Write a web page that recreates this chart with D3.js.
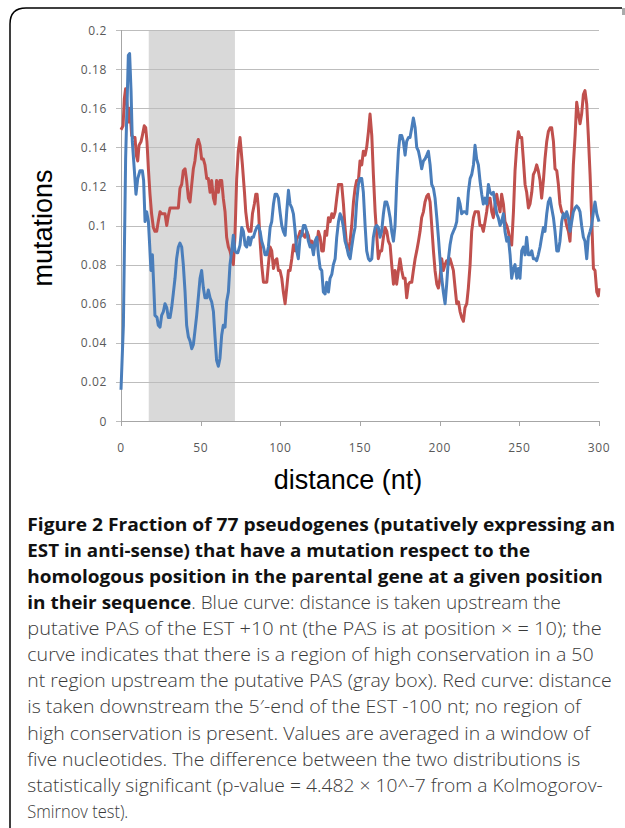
<html>
<head>
<script src="https://d3js.org/d3.v7.min.js"></script>
<style type="text/css">
    body { margin: 0; background: #fff; }
    text.tick { font-family: "Open Sans", sans-serif; font-size: 12px; fill: #595959; letter-spacing: 0.6px; }
    text.title { font-family: "Liberation Sans", Arial, sans-serif; font-size: 27px; fill: #000; }
    text.cap { font-family: "Open Sans", sans-serif; font-size: 18px; fill: #3a3a3a; font-weight: 300; }
    tspan.b { font-weight: 700; fill: #111; }
    line.grid { stroke: #bdbdbd; stroke-width: 1; }
</style>
</head>
<body>
<svg id="chart"></svg>
<script>
// blue curve: [nt, mutations]
var blue = [[0,0.016],[1.5,0.049],[2.9,0.134],[4.6,0.187],[5.4,0.188],[6.3,0.169],[7.1,0.143],[8.4,0.128],[9.4,0.116],[10.5,0.124],
  [11.9,0.128],[13.4,0.128],[14.2,0.123],[15.1,0.102],[16.1,0.107],[17.2,0.102],[18.0,0.090],[18.8,0.077],[19.7,0.085],[20.5,0.070],
  [21.3,0.054],[22.6,0.053],[23.4,0.049],[24.5,0.048],[25.5,0.054],[26.6,0.056],[27.6,0.060],[28.7,0.058],[29.7,0.053],[30.8,0.053],
  [31.8,0.058],[32.8,0.065],[33.9,0.073],[34.9,0.083],[36.0,0.089],[37.0,0.091],[38.1,0.089],[39.1,0.080],[40.2,0.066],[41.2,0.049],
  [42.3,0.043],[43.3,0.041],[44.4,0.037],[45.4,0.039],[46.4,0.046],[47.5,0.054],[48.5,0.063],[49.6,0.073],[50.6,0.077],[51.7,0.068],
  [52.7,0.063],[53.8,0.063],[54.8,0.067],[55.9,0.063],[56.9,0.061],[58.0,0.056],[59.0,0.043],[60.0,0.031],[61.1,0.028],[62.1,0.032],
  [63.2,0.044],[64.2,0.049],[65.3,0.048],[66.3,0.061],[67.4,0.066],[68.4,0.080],[69.5,0.087],[70.5,0.095],[71.5,0.087],[72.6,0.086],
  [73.3,0.086],[74.7,0.090],[75.8,0.099],[76.8,0.097],[77.9,0.090],[78.9,0.089],[80.0,0.094],[81.0,0.090],[82.1,0.094],[83.1,0.094],
  [84.2,0.097],[85.2,0.099],[86.2,0.100],[87.3,0.097],[88.3,0.092],[89.4,0.089],[90.4,0.085],[91.5,0.085],[92.5,0.089],[93.6,0.099],
  [94.6,0.102],[95.7,0.111],[96.7,0.116],[97.8,0.116],[98.8,0.114],[99.8,0.107],[100.9,0.100],[101.9,0.097],[103.0,0.095],[104.0,0.107],
  [105.1,0.118],[106.1,0.111],[107.2,0.109],[108.2,0.106],[109.3,0.097],[110.3,0.087],[111.3,0.083],[112.4,0.094],[113.4,0.095],[114.5,0.100],
  [115.5,0.100],[116.6,0.097],[117.6,0.092],[118.7,0.089],[119.7,0.090],[120.8,0.085],[121.8,0.092],[122.9,0.094],[123.9,0.085],[125.0,0.078],
  [126.0,0.077],[127.0,0.066],[128.1,0.065],[129.1,0.071],[130.2,0.066],[131.2,0.073],[132.3,0.075],[133.3,0.080],[134.4,0.083],[135.4,0.094],
  [136.5,0.102],[137.5,0.106],[138.5,0.104],[139.6,0.099],[140.6,0.092],[141.7,0.089],[142.7,0.085],[143.8,0.083],[144.8,0.089],[145.9,0.095],
  [146.9,0.099],[147.9,0.112],[149.0,0.121],[150.0,0.124],[151.1,0.124],[152.1,0.117],[153.2,0.100],[154.2,0.087],[155.3,0.083],[156.3,0.082],
  [157.4,0.083],[158.4,0.094],[159.5,0.099],[160.5,0.100],[161.5,0.099],[162.6,0.094],[163.6,0.097],[164.7,0.106],[165.7,0.112],[166.8,0.112],
  [167.8,0.109],[168.9,0.104],[169.9,0.097],[171.0,0.092],[172.0,0.100],[173.0,0.121],[174.1,0.138],[175.1,0.146],[176.2,0.146],[177.2,0.143],
  [178.3,0.136],[179.3,0.143],[180.4,0.145],[181.4,0.145],[182.5,0.150],[183.5,0.155],[184.6,0.150],[185.6,0.140],[186.7,0.138],[187.7,0.134],
  [188.7,0.129],[189.8,0.133],[190.8,0.134],[191.9,0.136],[192.9,0.138],[194.0,0.131],[195.0,0.121],[196.1,0.119],[197.1,0.114],[198.2,0.104],
  [199.2,0.094],[200.2,0.083],[201.3,0.073],[202.3,0.066],[203.4,0.060],[204.4,0.070],[205.5,0.083],[206.5,0.090],[207.6,0.095],[208.6,0.097],
  [209.7,0.099],[210.7,0.102],[211.8,0.114],[212.8,0.111],[213.8,0.106],[214.9,0.107],[215.9,0.107],[217.0,0.106],[218.0,0.117],[219.1,0.124],
  [220.1,0.126],[221.2,0.131],[222.2,0.141],[223.2,0.134],[224.3,0.131],[225.3,0.123],[226.4,0.116],[227.4,0.111],[228.5,0.114],[229.5,0.111],
  [230.6,0.121],[231.6,0.117],[232.7,0.116],[233.7,0.117],[234.8,0.111],[235.8,0.106],[236.8,0.104],[237.9,0.100],[238.9,0.102],[240.0,0.106],
  [241.0,0.097],[242.1,0.092],[243.1,0.094],[244.2,0.085],[245.2,0.073],[246.3,0.078],[247.3,0.080],[248.4,0.073],[249.4,0.078],[250.4,0.073],
  [251.5,0.087],[252.5,0.089],[253.6,0.085],[254.6,0.094],[255.7,0.085],[256.7,0.085],[257.8,0.087],[258.8,0.083],[259.9,0.083],[260.9,0.082],
  [261.9,0.085],[263.0,0.089],[264.0,0.094],[265.1,0.099],[266.1,0.097],[267.2,0.106],[268.2,0.112],[269.3,0.114],[270.3,0.109],[271.4,0.104],
  [272.4,0.097],[273.5,0.087],[274.5,0.087],[275.5,0.092],[276.6,0.102],[277.6,0.106],[278.7,0.104],[279.7,0.107],[280.8,0.104],[281.8,0.097],
  [282.9,0.102],[283.9,0.107],[285.0,0.109],[286.0,0.110],[287.1,0.109],[288.1,0.107],[289.1,0.100],[290.2,0.094],[291.2,0.092],[292.3,0.083],
  [293.3,0.094],[294.4,0.097],[295.4,0.100],[296.5,0.107],[297.5,0.112],[298.6,0.106],[300,0.102]];

// red curve: [nt, mutations]
var red = [[0,0.149],[1.3,0.151],[2.1,0.165],[2.9,0.170],[3.8,0.162],[4.6,0.153],[5.6,0.160],[6.7,0.146],[7.7,0.145],[8.8,0.145],
  [9.6,0.136],[10.5,0.133],[11.3,0.141],[12.6,0.143],[13.4,0.146],[14.6,0.151],[15.5,0.150],[16.3,0.143],[17.2,0.129],[18.2,0.116],
  [19.2,0.106],[20.3,0.099],[21.3,0.097],[22.4,0.097],[23.4,0.102],[24.5,0.107],[25.5,0.106],[26.6,0.106],[27.6,0.106],[28.7,0.100],
  [29.7,0.105],[30.8,0.109],[32.2,0.109],[33.9,0.109],[36.0,0.109],[37.0,0.119],[38.1,0.121],[39.1,0.128],[40.2,0.129],[41.2,0.123],
  [42.3,0.114],[43.3,0.112],[44.4,0.121],[45.4,0.129],[46.4,0.133],[47.5,0.141],[48.5,0.144],[49.6,0.141],[50.6,0.134],[51.7,0.134],
  [52.7,0.131],[53.8,0.124],[54.8,0.124],[55.9,0.117],[56.9,0.123],[58.0,0.114],[59.0,0.111],[60.0,0.123],[61.1,0.117],[62.1,0.123],
  [63.2,0.123],[64.2,0.114],[65.3,0.107],[66.3,0.094],[67.4,0.089],[68.4,0.087],[69.5,0.083],[70.5,0.080],[71.5,0.094],[72.6,0.124],
  [73.6,0.138],[74.7,0.145],[76.2,0.131],[77.5,0.117],[78.3,0.107],[79.5,0.099],[80.4,0.097],[81.6,0.097],[82.5,0.106],[83.7,0.111],
  [84.6,0.116],[85.4,0.116],[86.2,0.109],[87.3,0.092],[88.3,0.080],[89.4,0.071],[90.4,0.071],[91.5,0.071],[92.5,0.080],[93.6,0.089],
  [94.6,0.087],[95.7,0.078],[96.7,0.082],[97.8,0.083],[98.8,0.077],[99.8,0.077],[100.9,0.073],[101.9,0.066],[103.0,0.060],[104.0,0.068],
  [105.1,0.077],[106.1,0.077],[107.2,0.083],[108.2,0.090],[109.3,0.087],[110.3,0.094],[111.3,0.094],[112.4,0.097],[113.4,0.097],[114.5,0.095],
  [115.5,0.094],[116.6,0.097],[117.6,0.095],[118.7,0.090],[119.7,0.092],[120.8,0.087],[121.8,0.092],[122.9,0.090],[123.9,0.097],[125.0,0.094],
  [126.0,0.087],[127.0,0.087],[128.1,0.097],[129.1,0.095],[130.2,0.104],[131.2,0.102],[132.3,0.106],[133.3,0.104],[134.4,0.107],[135.4,0.114],
  [136.5,0.121],[137.5,0.121],[138.5,0.121],[139.6,0.111],[140.6,0.099],[141.7,0.089],[142.7,0.087],[143.8,0.092],[144.8,0.100],[145.9,0.112],
  [146.9,0.119],[147.9,0.123],[149.0,0.123],[150.0,0.133],[151.1,0.131],[152.1,0.138],[153.2,0.136],[154.2,0.140],[155.3,0.148],[156.3,0.157],
  [157.4,0.146],[158.4,0.126],[159.5,0.107],[160.5,0.095],[161.5,0.083],[162.6,0.087],[163.6,0.087],[164.7,0.094],[165.7,0.099],[166.8,0.097],
  [167.8,0.092],[168.9,0.090],[169.9,0.080],[171.0,0.070],[172.0,0.077],[173.0,0.070],[174.1,0.077],[175.1,0.083],[176.2,0.077],[177.2,0.073],
  [178.3,0.073],[179.3,0.063],[180.4,0.070],[181.4,0.071],[182.5,0.071],[183.5,0.077],[184.6,0.083],[185.6,0.087],[186.7,0.092],[187.7,0.097],
  [188.7,0.104],[189.8,0.107],[190.8,0.112],[191.9,0.115],[192.9,0.116],[194.0,0.112],[195.0,0.100],[196.1,0.087],[197.1,0.077],[198.2,0.070],
  [199.2,0.068],[200.2,0.073],[201.3,0.083],[202.3,0.077],[203.4,0.080],[204.4,0.082],[205.5,0.080],[206.5,0.083],[207.6,0.080],[208.6,0.077],
  [209.7,0.068],[210.7,0.060],[211.8,0.061],[212.8,0.056],[213.8,0.053],[214.9,0.051],[215.9,0.058],[217.0,0.060],[218.0,0.068],[219.1,0.080],
  [220.1,0.097],[221.2,0.104],[222.2,0.107],[224.3,0.107],[225.3,0.100],[226.4,0.100],[227.4,0.097],[228.5,0.102],[229.5,0.107],[230.6,0.114],
  [231.6,0.114],[232.7,0.107],[233.7,0.104],[234.8,0.111],[235.8,0.116],[236.8,0.111],[237.9,0.107],[238.9,0.116],[240.0,0.111],[241.0,0.102],
  [242.1,0.100],[243.1,0.097],[244.2,0.092],[245.2,0.090],[246.3,0.107],[247.3,0.128],[248.4,0.141],[249.4,0.148],[250.4,0.145],[251.5,0.145],
  [252.5,0.134],[253.6,0.121],[254.6,0.117],[255.7,0.109],[256.7,0.111],[257.8,0.117],[258.8,0.126],[259.9,0.128],[260.9,0.131],[261.9,0.128],
  [263.0,0.123],[264.0,0.114],[265.1,0.123],[266.1,0.134],[267.2,0.143],[268.2,0.148],[269.3,0.150],[270.3,0.150],[271.4,0.143],[272.4,0.129],
  [273.5,0.128],[274.5,0.121],[275.5,0.111],[276.6,0.107],[277.6,0.106],[278.7,0.104],[279.7,0.100],[280.8,0.097],[281.8,0.092],[282.9,0.109],
  [283.9,0.131],[285.0,0.146],[286.0,0.163],[287.1,0.157],[288.1,0.152],[289.1,0.157],[290.2,0.167],[291.2,0.169],[292.3,0.162],[293.3,0.146],
  [294.4,0.126],[295.4,0.104],[296.5,0.078],[297.5,0.077],[298.6,0.066],[299.6,0.064],[300,0.068]];

var grayBox = [17.4, 71.5];
var xTicks = [0, 50, 100, 150, 200, 250, 300];
var yTicks = [0, 0.02, 0.04, 0.06, 0.08, 0.1, 0.12, 0.14, 0.16, 0.18, 0.2];
var yLabel = "mutations";
var xLabel = "distance (nt)";

// caption lines: [bold part, regular part, right edge]
var captionLines = [
    ["Figure 2 Fraction of 77 pseudogenes (putatively expressing an", "", 615],
    ["EST in anti-sense) that have a mutation respect to the", "", 530],
    ["homologous position in the parental gene at a given position", "", 602.7],
    ["in their sequence", ". Blue curve: distance is taken upstream the", 561],
    ["", "putative PAS of the EST +10 nt (the PAS is at position \u00d7 = 10); the", 601.7],
    ["", "curve indicates that there is a region of high conservation in a 50", 593.7],
    ["", "nt region upstream the putative PAS (gray box). Red curve: distance", 611.7],
    ["", "is taken downstream the 5\u2032-end of the EST -100 nt; no region of", 581],
    ["", "high conservation is present. Values are averaged in a window of", 590],
    ["", "five nucleotides. The difference between the two distributions is", 580.3],
    ["", "statistically significant (p-value = 4.482 \u00d7 10^-7 from a Kolmogorov-", 602.7],
    ["", "Smirnov test).", 128.3]
];

var W = 625, H = 828;
var svg = d3.select("#chart").attr("width", W).attr("height", H);

// frame with rounded top-left corner
svg.append("path")
    .attr("d", "M10,828 L10,24 Q10,8 26,8 L622,8")
    .attr("fill", "none").attr("stroke", "#000").attr("stroke-width", 1.5);
svg.append("rect").attr("x", 622).attr("y", 8).attr("width", 3).attr("height", 7).attr("fill", "#aaa");

var x = d3.scaleLinear().domain([0, 300]).range([121, 599]);
var y = d3.scaleLinear().domain([0, 0.2]).range([421, 30]);

svg.append("rect")
    .attr("x", x(grayBox[0])).attr("width", x(grayBox[1]) - x(grayBox[0]))
    .attr("y", y(0.2)).attr("height", y(0) - y(0.2))
    .attr("fill", "#d9d9d9");

svg.selectAll("line.grid")
    .data(yTicks)
    .enter()
    .append("line").classed("grid", true)
        .attr("x1", 116).attr("x2", x(300))
        .attr("y1", function(d){ return Math.round(y(d)) + 0.5; })
        .attr("y2", function(d){ return Math.round(y(d)) + 0.5; });

// axes
svg.append("line").attr("x1", x(0) + 0.5).attr("x2", x(0) + 0.5)
    .attr("y1", y(0.2)).attr("y2", y(0)).attr("stroke", "#a6a6a6");
svg.append("line").attr("x1", x(0)).attr("x2", x(300))
    .attr("y1", Math.round(y(0)) + 0.5).attr("y2", Math.round(y(0)) + 0.5).attr("stroke", "#a6a6a6");
svg.selectAll("line.xt")
    .data(xTicks)
    .enter()
    .append("line").classed("xt", true)
        .attr("x1", function(d){ return Math.round(x(d)) + 0.5; })
        .attr("x2", function(d){ return Math.round(x(d)) + 0.5; })
        .attr("y1", y(0)).attr("y2", y(0) + 5)
        .attr("stroke", "#a6a6a6");

svg.selectAll("text.ytick")
    .data(yTicks)
    .enter()
    .append("text").attr("class", "tick ytick")
        .attr("x", 107)
        .attr("y", function(d){ return y(d) + 4.5; })
        .attr("text-anchor", "end")
        .text(function(d){ return d === 0 ? "0" : String(d); });

svg.selectAll("text.xtick")
    .data(xTicks)
    .enter()
    .append("text").attr("class", "tick xtick")
        .attr("x", function(d){ return x(d); })
        .attr("y", 452)
        .attr("text-anchor", "middle")
        .text(function(d){ return d; });

var line = d3.line()
    .x(function(d){ return x(d[0]); })
    .y(function(d){ return y(d[1]); });

svg.append("path").datum(red)
    .attr("d", line)
    .attr("fill", "none").attr("stroke", "#c0504d").attr("stroke-width", 3)
    .attr("stroke-linejoin", "round");
svg.append("path").datum(blue)
    .attr("d", line)
    .attr("fill", "none").attr("stroke", "#4a7ebb").attr("stroke-width", 3)
    .attr("stroke-linejoin", "round");

svg.append("text").classed("title", true)
    .attr("transform", "translate(52,228) rotate(-90)")
    .attr("text-anchor", "middle")
    .text(yLabel);
svg.append("text").classed("title", true)
    .attr("x", 348).attr("y", 489)
    .attr("text-anchor", "middle")
    .text(xLabel);

// caption
var capX = 27.3;
captionLines.forEach(function(l, i){
    var t = svg.append("text").classed("cap", true)
        .attr("x", capX).attr("y", 531 + i*26.07)
        .attr("textLength", l[2] - capX)
        .attr("lengthAdjust", "spacingAndGlyphs");
    if (l[0]) t.append("tspan").classed("b", true).text(l[0]);
    if (l[1]) t.append("tspan").text(l[1]);
});
</script>
</body>
</html>
